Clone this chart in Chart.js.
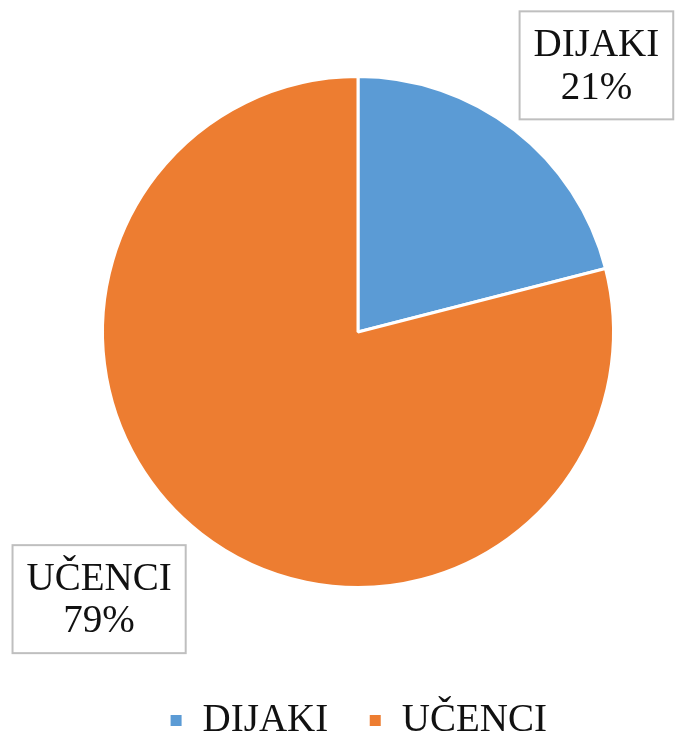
<!DOCTYPE html>
<html>
<head>
<meta charset="utf-8">
<script src="https://cdn.jsdelivr.net/npm/chart.js@4.4.0/dist/chart.umd.min.js"></script>
<style>
  html, body { margin: 0; padding: 0; background: #fff; }
  #wrap { width: 675px; height: 737px; }
</style>
</head>
<body>
<div id="wrap"><canvas id="pieChart" width="675" height="737"></canvas></div>
<script>
// data
var labels = ["DIJAKI", "UČENCI"];
var values = [21, 79];
var colors = ["#5B9BD5", "#ED7D31"];

// where each label box sits: angle shift (deg) from slice middle, distance in radii
var labelPlace = [
	{ shift: 4.0, dist: 1.40 },
	{ shift: 6.3, dist: 1.456 }
];

var FONT = "'Liberation Serif', 'Times New Roman', serif";

var boxLabels = {
	id: 'boxLabels',
	afterDatasetsDraw: function(chart) {
		var ctx = chart.ctx;
		var meta = chart.getDatasetMeta(0);
		var total = values.reduce(function(a, b) { return a + b; }, 0);
		meta.data.forEach(function(arc, i) {
			var p = arc.getProps(['x', 'y', 'startAngle', 'endAngle', 'outerRadius'], true);
			var mid = (p.startAngle + p.endAngle) / 2 + labelPlace[i].shift * Math.PI / 180;
			var d = p.outerRadius * labelPlace[i].dist;
			var cx = p.x + Math.cos(mid) * d;
			var cy = p.y + Math.sin(mid) * d;
			var pct = Math.round(values[i] / total * 100) + '%';
			ctx.save();
			ctx.font = '39px ' + FONT;
			var w = Math.max(ctx.measureText(labels[i]).width, ctx.measureText(pct).width) + 28;
			var h = 108;
			ctx.fillStyle = '#fff';
			ctx.fillRect(cx - w / 2, cy - h / 2, w, h);
			ctx.strokeStyle = '#bfbfbf';
			ctx.lineWidth = 2;
			ctx.strokeRect(cx - w / 2, cy - h / 2, w, h);
			ctx.fillStyle = '#111';
			ctx.textAlign = 'center';
			ctx.textBaseline = 'middle';
			ctx.fillText(labels[i], cx, cy - 19.5);
			ctx.fillText(pct, cx, cy + 23);
			ctx.restore();
		});
	}
};

var ctxP = document.getElementById("pieChart").getContext('2d');
var myPieChart = new Chart(ctxP, {
	type: 'pie',
	data: {
		labels: labels,
		datasets: [{
			data: values,
			backgroundColor: colors,
			borderColor: '#ffffff',
			borderWidth: 3,
			hoverOffset: 0
		}]
	},
	options: {
		responsive: false,
		animation: false,
		layout: {
			padding: { left: 101, right: 60, top: 3, bottom: -13 }
		},
		plugins: {
			tooltip: { enabled: false },
			legend: {
				position: 'bottom',
				labels: {
					font: { family: FONT, size: 39 },
					color: '#111',
					boxWidth: 14,
					boxHeight: 14,
					padding: 40
				}
			}
		}
	},
	plugins: [boxLabels]
});
</script>
</body>
</html>
